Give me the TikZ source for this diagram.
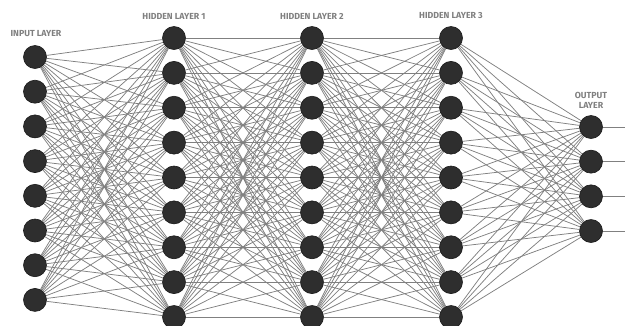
\documentclass[tikz,border=0pt]{standalone}
\usepackage{fontspec}
\setsansfont{Fira Sans}
\usetikzlibrary{backgrounds}

\begin{document}
\begin{tikzpicture}[
			x=1pt, y=-1pt,
			font=\sffamily\bfseries\fontsize{8.8}{10}\selectfont,
			neuron/.style={circle, draw=black!90, line width=0.6pt, fill=black!82, minimum size=23pt, inner sep=0pt},
			syn/.style={draw=black!50, line width=0.75pt},
			camada/.style={text=black!50, align=center, inner sep=0pt}
		]
		\useasboundingbox (0,0) rectangle (625,325);

		\foreach \i in {1,...,8}
			\node[neuron] (in\i) at (35,{57+34.7*(\i-1)}) {};
		\foreach \i in {1,...,9} {
			\node[neuron] (ha\i) at (174,{38+34.875*(\i-1)}) {};
			\node[neuron] (hb\i) at (312,{38+34.875*(\i-1)}) {};
			\node[neuron] (hc\i) at (451,{38+34.875*(\i-1)}) {};
		}
		\foreach \i in {1,...,4} {
			\node[neuron] (out\i) at (591,{127+34.67*(\i-1)}) {};
			\coordinate (end\i) at (625,{127+34.67*(\i-1)});
		}

		\node[camada] (lin) at (36,34) {INPUT LAYER};
		\node[camada] (lha) at (174,16) {HIDDEN LAYER 1};
		\node[camada] (lhb) at (312,16) {HIDDEN LAYER 2};
		\node[camada] (lhc) at (451,16) {HIDDEN LAYER 3};
		\node[camada] (lout) at (591,100) {OUTPUT\\ LAYER};

		\begin{scope}[on background layer]
			\foreach \i in {1,...,8}
				\foreach \j in {1,...,9}
					\draw[syn] (in\i) -- (ha\j);
			\foreach \i in {1,...,9}
				\foreach \j in {1,...,9} {
					\draw[syn] (ha\i) -- (hb\j);
					\draw[syn] (hb\i) -- (hc\j);
				}
			\foreach \i in {1,...,9}
				\foreach \j in {1,...,4}
					\draw[syn] (hc\i) -- (out\j);
			\foreach \j in {1,...,4}
				\draw[syn] (out\j) -- (end\j);
		\end{scope}
	\end{tikzpicture}
\end{document}
